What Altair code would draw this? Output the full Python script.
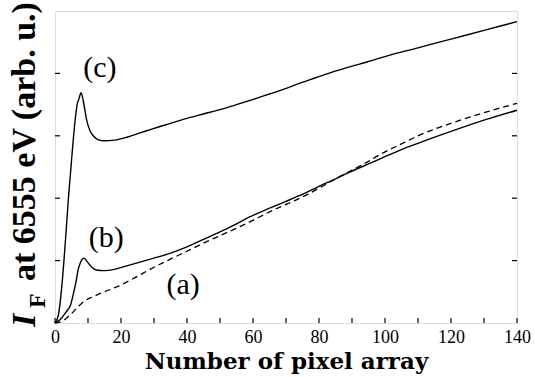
import altair as alt
import pandas as pd

# ---- data ----
C_X = [0, 1, 2, 3, 4, 5, 6, 6.7, 7.3, 7.9, 8.6, 9.6, 10.6, 11.6, 13, 15, 18, 22, 26, 30,
       35, 40, 45, 50, 55, 61, 65, 69, 74, 79, 84, 89, 95, 100, 110, 120, 130, 140]
C_Y = [0, 0.12, 0.55, 1.2, 1.95, 2.6, 3.2, 3.5, 3.6, 3.69, 3.55, 3.25, 3.08, 3.0, 2.94, 2.92,
       2.93, 2.98, 3.05, 3.12, 3.2, 3.28, 3.35, 3.42, 3.5, 3.6, 3.67, 3.74, 3.84, 3.93, 4.02,
       4.1, 4.19, 4.27, 4.41, 4.55, 4.69, 4.83]

B_X = [0, 1, 2, 3, 4, 4.5, 5.5, 6.5, 7, 7.8, 8.8, 9.8, 11, 12.5, 15, 18, 22, 26, 30, 35, 40,
       45, 50, 55, 59, 65, 70, 74, 80, 85, 89, 95, 98.5, 105, 110, 120, 130, 140]
B_Y = [0, 0.03, 0.08, 0.15, 0.22, 0.26, 0.45, 0.7, 0.85, 0.98, 1.04, 0.98, 0.9, 0.85, 0.84,
       0.86, 0.92, 0.98, 1.04, 1.12, 1.22, 1.34, 1.46, 1.59, 1.7, 1.84, 1.95, 2.04, 2.19, 2.31,
       2.41, 2.55, 2.63, 2.78, 2.88, 3.07, 3.25, 3.41]

A_X = [0, 2, 3.5, 5, 7, 8.6, 11.5, 15, 18.7, 24, 28.8, 34.8, 40, 45, 50, 55, 59, 65, 70,
       74.2, 80, 85, 90, 95, 98.5, 105, 110, 120, 130, 140]
A_Y = [0, 0.02, 0.08, 0.15, 0.26, 0.34, 0.42, 0.5, 0.58, 0.72, 0.86, 1.02, 1.15, 1.28, 1.4,
       1.52, 1.62, 1.78, 1.9, 2.0, 2.16, 2.31, 2.45, 2.59, 2.7, 2.87, 3.0, 3.2, 3.37, 3.52]

LABEL_TEXT = ["(c)", "(b)", "(a)"]
LABEL_X = [13.6, 15.5, 38.8]
LABEL_Y = [4.08, 1.36, 0.61]

X_TICKS = list(range(0, 141, 10))
Y_TICKS = [1, 2, 3, 4]

W, H = 462, 312
SERIF = "Liberation Serif"

df_c = pd.DataFrame({"x": C_X, "y": C_Y})
df_b = pd.DataFrame({"x": B_X, "y": B_Y})
df_a = pd.DataFrame({"x": A_X, "y": A_Y})
df_lab = pd.DataFrame({"t": LABEL_TEXT, "x": LABEL_X, "y": LABEL_Y})
df_xt = pd.DataFrame({"x": X_TICKS})
df_yt = pd.DataFrame({"y": Y_TICKS})

xs = alt.Scale(domain=[0, 140], nice=False, zero=False)
ys = alt.Scale(domain=[0, 5], nice=False, zero=False)

x_axis = alt.Axis(values=X_TICKS, labelExpr="datum.value % 20 == 0 ? datum.label : ''",
                  ticks=False, domain=False, grid=False, labelFont=SERIF, labelFontSize=18,
                  labelColor="black", labelPadding=5, title="Number of pixel array",
                  titleFont="DejaVu Serif", titleFontSize=23, titleFontWeight="bold",
                  titleColor="black", titleBaseline="alphabetic", titleY=45, labelFlush=False)

base_x = alt.X("x:Q", scale=xs, axis=x_axis)
base_y = alt.Y("y:Q", scale=ys, axis=None)

line_c = alt.Chart(df_c).mark_line(color="black", strokeWidth=1.4, interpolate="monotone").encode(x=base_x, y=base_y)
line_b = alt.Chart(df_b).mark_line(color="black", strokeWidth=1.4, interpolate="monotone").encode(
    x=alt.X("x:Q", scale=xs), y=alt.Y("y:Q", scale=ys))
line_a = alt.Chart(df_a).mark_line(color="black", strokeWidth=1.3, strokeDash=[6, 4],
                                   interpolate="monotone").encode(
    x=alt.X("x:Q", scale=xs), y=alt.Y("y:Q", scale=ys))

labels = alt.Chart(df_lab).mark_text(font=SERIF, fontSize=30, color="black").encode(
    x=alt.X("x:Q", scale=xs), y=alt.Y("y:Q", scale=ys), text="t:N")

xt = alt.Chart(df_xt).mark_rule(color="black", strokeWidth=1.2).encode(
    x=alt.X("x:Q", scale=xs), y=alt.value(H), y2=alt.value(H - 5))
ytl = alt.Chart(df_yt).mark_rule(color="black", strokeWidth=1.2).encode(
    y=alt.Y("y:Q", scale=ys), x=alt.value(0), x2=alt.value(5))
ytr = alt.Chart(df_yt).mark_rule(color="black", strokeWidth=1.2).encode(
    y=alt.Y("y:Q", scale=ys), x=alt.value(W), x2=alt.value(W - 5))

one = pd.DataFrame({"t": ["x"]})
t_I = alt.Chart(one).mark_text(text="I", font=SERIF, fontSize=34, fontWeight="bold",
                               fontStyle="italic", angle=270, align="left",
                               baseline="alphabetic", color="black").encode(
    x=alt.value(-20), y=alt.value(316))
t_F = alt.Chart(one).mark_text(text="F", font=SERIF, fontSize=24, fontWeight="bold",
                               angle=270, align="left", baseline="alphabetic",
                               color="black").encode(x=alt.value(-10), y=alt.value(297))
t_rest = alt.Chart(one).mark_text(text="at 6555 eV (arb. u.)", font=SERIF, fontSize=34,
                                  fontWeight="bold", angle=270, align="left",
                                  baseline="alphabetic", color="black").encode(
    x=alt.value(-20), y=alt.value(270))

chart = alt.layer(line_c, line_b, line_a, labels, xt, ytl, ytr, t_I, t_F, t_rest).properties(
    width=W, height=H, autosize="none",
    padding={"left": 55, "top": 11, "right": 18, "bottom": 54},
).configure_view(stroke="black", strokeWidth=1.5).configure_axis(
    labelFont=SERIF).configure(background="white")

chart.save("out.html", embed_options={"renderer": "svg", "actions": False})
